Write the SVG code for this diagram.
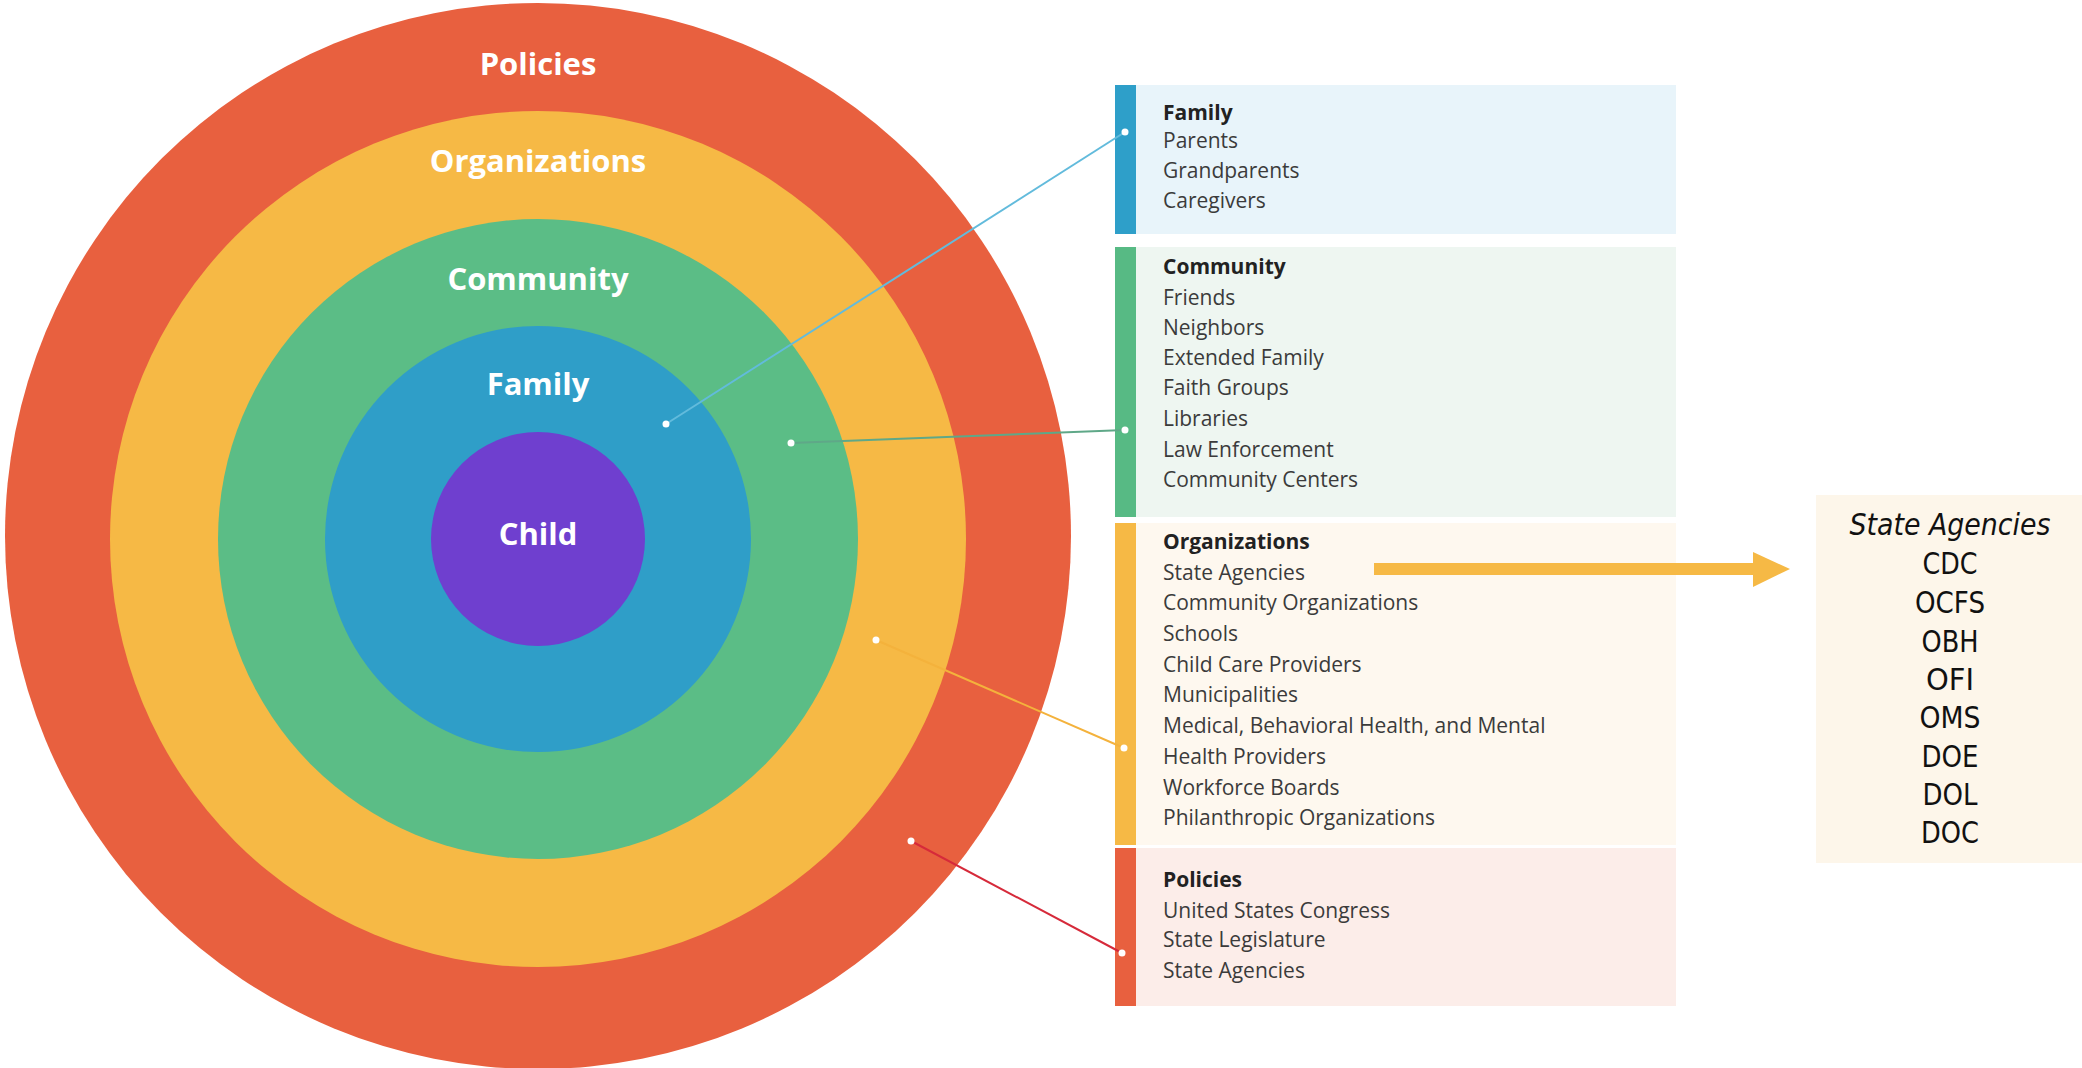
<svg xmlns="http://www.w3.org/2000/svg" width="2082" height="1068" viewBox="0 0 2082 1068">
<style>
.ring-label{font-family:"Open Sans","Noto Sans",sans-serif;font-weight:700;font-size:31px;fill:#ffffff;text-anchor:middle}
.pt{font-family:"Open Sans","Noto Sans",sans-serif;font-size:21px;fill:#3b3b3b}
.ph{font-family:"Open Sans","Noto Sans",sans-serif;font-size:21px;font-weight:700;fill:#222222}
.sa{font-family:"DejaVu Sans","Liberation Sans",sans-serif;font-stretch:condensed;font-size:30px;fill:#111111;text-anchor:middle}
.dot{fill:#ffffff}
.conn{fill:none;stroke-width:2}
</style>
<rect x="0" y="0" width="2082" height="1068" fill="#ffffff"/>

<g id="rings">
  <g id="ring-policies">
    <circle cx="538" cy="536" r="533" fill="#e8603f"/>
    <text class="ring-label" x="538" y="75">Policies</text>
  </g>
  <g id="ring-organizations">
    <circle cx="538" cy="539" r="428" fill="#f6b945"/>
    <text class="ring-label" x="538" y="172">Organizations</text>
  </g>
  <g id="ring-community">
    <circle cx="538" cy="539" r="320" fill="#5bbd86"/>
    <text class="ring-label" x="538" y="290">Community</text>
  </g>
  <g id="ring-family">
    <circle cx="538" cy="539" r="213" fill="#2f9ec8"/>
    <text class="ring-label" x="538" y="395">Family</text>
  </g>
  <g id="ring-child">
    <circle cx="538" cy="539" r="107" fill="#6f3fcf"/>
    <text class="ring-label" x="538" y="545">Child</text>
  </g>
</g>

<g id="panel-family">
  <rect x="1115" y="85" width="561" height="149" fill="#e8f4fa"/>
  <rect x="1115" y="85" width="21" height="149" fill="#2e9fc9"/>
  <text class="ph" x="1163" y="120">Family</text>
  <text class="pt" x="1163" y="148">Parents</text>
  <text class="pt" x="1163" y="178">Grandparents</text>
  <text class="pt" x="1163" y="208">Caregivers</text>
</g>

<g id="panel-community">
  <rect x="1115" y="247" width="561" height="270" fill="#eef6f1"/>
  <rect x="1115" y="247" width="21" height="270" fill="#57ba84"/>
  <text class="ph" x="1163" y="274">Community</text>
  <text class="pt" x="1163" y="305">Friends</text>
  <text class="pt" x="1163" y="335">Neighbors</text>
  <text class="pt" x="1163" y="365">Extended Family</text>
  <text class="pt" x="1163" y="395">Faith Groups</text>
  <text class="pt" x="1163" y="426">Libraries</text>
  <text class="pt" x="1163" y="457">Law Enforcement</text>
  <text class="pt" x="1163" y="487">Community Centers</text>
</g>

<g id="panel-organizations">
  <rect x="1115" y="523" width="561" height="322" fill="#fef8ef"/>
  <rect x="1115" y="523" width="21" height="322" fill="#f6b945"/>
  <text class="ph" x="1163" y="549">Organizations</text>
  <text class="pt" x="1163" y="580">State Agencies</text>
  <text class="pt" x="1163" y="610">Community Organizations</text>
  <text class="pt" x="1163" y="641">Schools</text>
  <text class="pt" x="1163" y="672">Child Care Providers</text>
  <text class="pt" x="1163" y="702">Municipalities</text>
  <text class="pt" x="1163" y="733">Medical, Behavioral Health, and Mental</text>
  <text class="pt" x="1163" y="764">Health Providers</text>
  <text class="pt" x="1163" y="795">Workforce Boards</text>
  <text class="pt" x="1163" y="825">Philanthropic Organizations</text>
</g>

<g id="panel-policies">
  <rect x="1115" y="848" width="561" height="158" fill="#fcede9"/>
  <rect x="1115" y="848" width="21" height="158" fill="#e8603f"/>
  <text class="ph" x="1163" y="887">Policies</text>
  <text class="pt" x="1163" y="918">United States Congress</text>
  <text class="pt" x="1163" y="947">State Legislature</text>
  <text class="pt" x="1163" y="978">State Agencies</text>
</g>

<g id="state-agencies-box">
  <rect x="1816" y="495" width="266" height="368" fill="#fdf6ea"/>
  <text class="sa" x="1950" y="535" font-style="italic" textLength="201" lengthAdjust="spacingAndGlyphs">State Agencies</text>
  <text class="sa" x="1950" y="574" textLength="55" lengthAdjust="spacingAndGlyphs">CDC</text>
  <text class="sa" x="1950" y="613" textLength="70" lengthAdjust="spacingAndGlyphs">OCFS</text>
  <text class="sa" x="1950" y="652" textLength="57" lengthAdjust="spacingAndGlyphs">OBH</text>
  <text class="sa" x="1950" y="690" textLength="48" lengthAdjust="spacingAndGlyphs">OFI</text>
  <text class="sa" x="1950" y="728" textLength="61" lengthAdjust="spacingAndGlyphs">OMS</text>
  <text class="sa" x="1950" y="767" textLength="57" lengthAdjust="spacingAndGlyphs">DOE</text>
  <text class="sa" x="1950" y="805" textLength="55" lengthAdjust="spacingAndGlyphs">DOL</text>
  <text class="sa" x="1950" y="843" textLength="58" lengthAdjust="spacingAndGlyphs">DOC</text>
</g>

<g id="connectors">
  <line class="conn" x1="666" y1="424" x2="1125" y2="132" stroke="#62bbdc"/>
  <line class="conn" x1="791" y1="443" x2="1125" y2="430" stroke="#5fa888"/>
  <line class="conn" x1="876" y1="640" x2="1124" y2="748" stroke="#f4b23c"/>
  <line class="conn" x1="911" y1="841" x2="1122" y2="953" stroke="#d62a3a"/>
  <circle class="dot" cx="666" cy="424" r="3.5"/>
  <circle class="dot" cx="791" cy="443" r="3.5"/>
  <circle class="dot" cx="876" cy="640" r="3.5"/>
  <circle class="dot" cx="911" cy="841" r="3.5"/>
  <circle class="dot" cx="1125" cy="132" r="3.5"/>
  <circle class="dot" cx="1125" cy="430" r="3.5"/>
  <circle class="dot" cx="1124" cy="748" r="3.5"/>
  <circle class="dot" cx="1122" cy="953" r="3.5"/>
  <g id="arrow-state-agencies" fill="#f6b945">
    <rect x="1374" y="563" width="381" height="12"/>
    <polygon points="1753,552 1790,569 1753,587"/>
  </g>
</g>
</svg>
